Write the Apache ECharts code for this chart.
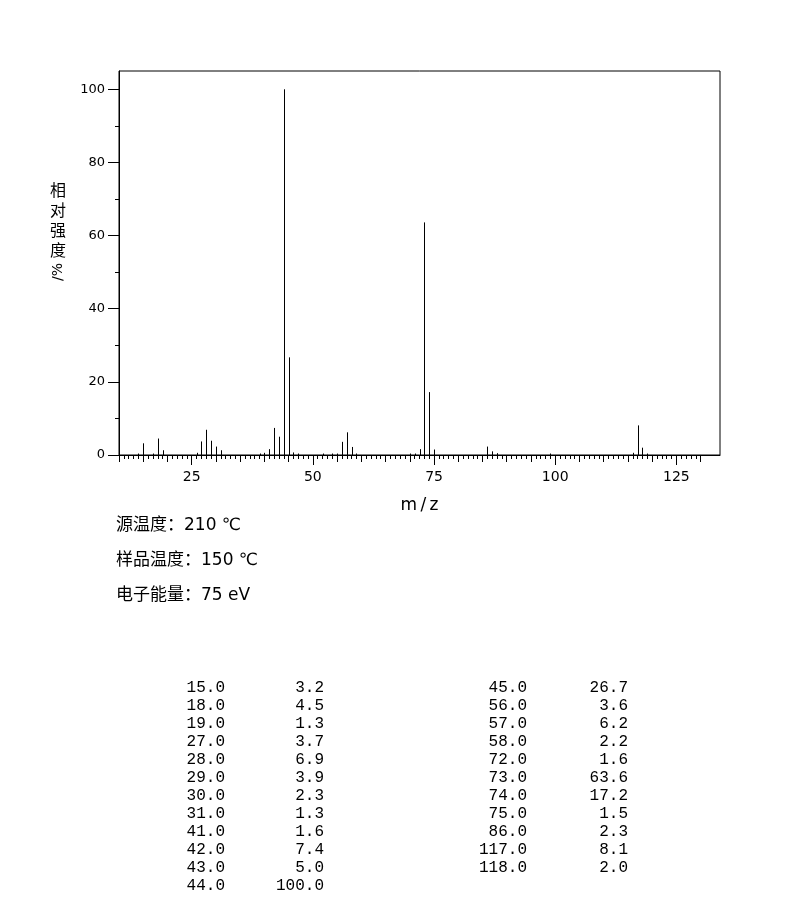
<!DOCTYPE html>
<html>
<head>
<meta charset="utf-8">
<script src="https://cdn.jsdelivr.net/npm/echarts@6/dist/echarts.min.js"></script>
<style>html,body{margin:0;padding:0;background:#fff}#c{width:794px;height:907px}</style>
</head>
<body>
<div id="c"></div>
<script>
// Listed peaks (table)
const tableMz  = [15, 18, 19, 27, 28, 29, 30, 31, 41, 42, 43, 44, 45, 56, 57, 58, 72, 73, 74, 75, 86, 117, 118];
const tableInt = [3.2, 4.5, 1.3, 3.7, 6.9, 3.9, 2.3, 1.3, 1.6, 7.4, 5.0, 100.0, 26.7, 3.6, 6.2, 2.2, 1.6, 63.6, 17.2, 1.5, 2.3, 8.1, 2.0];
// Small unlisted peaks
const minorMz  = [14, 17, 26, 39, 40, 46, 47, 52, 54, 55, 59, 70, 71, 87, 88, 99, 116, 119];
const minorInt = [0.4, 0.4, 0.6, 0.4, 0.6, 0.7, 0.4, 0.4, 0.4, 0.4, 0.4, 0.4, 0.4, 1.0, 0.5, 0.4, 0.6, 0.4];
// Axis ticks / labels
const xMajor = [25, 50, 75, 100, 125];
const yMajor = [0, 20, 40, 60, 80, 100];
const yMinor = [10, 30, 50, 70, 90];
const xFives = [];
for (let v = 10; v <= 130; v += 5) xFives.push(v);
const xOnes = [];
for (let v = 10; v <= 130; v += 1) xOnes.push(v);
const infoLines = ['源温度：210 ℃', '样品温度：150 ℃', '电子能量：75 eV'];

const peaks = tableMz.map((m, i) => [m, tableInt[i]])
  .concat(minorMz.map((m, i) => [m, minorInt[i]]))
  .sort((a, b) => a[0] - b[0]);

const chart = echarts.init(document.getElementById('c'), null, {renderer: 'canvas'});
const black = '#000';
const sansFont = '"DejaVu Sans", "Noto Sans CJK SC", sans-serif';

function xAx(ticks, len, extra) {
  return Object.assign({
    type: 'value', min: 10, max: 134, position: 'bottom', gridIndex: 0,
    axisLine: {show: false},
    axisTick: {show: true, length: len, customValues: ticks, lineStyle: {color: black, width: 1}},
    axisLabel: {show: false},
    splitLine: {show: false}
  }, extra || {});
}

const graphics = [];
infoLines.forEach((t, i) => {
  graphics.push({type: 'text', x: 116, y: 526 + i * 35,
    style: {text: t, font: '17px ' + sansFont, textVerticalAlign: 'middle', fill: black}});
});
graphics.push({type: 'text', x: 58, y: 180,
  style: {text: '相\n对\n强\n度', font: '16px "Noto Sans CJK SC", sans-serif', lineHeight: 20, textAlign: 'center', fill: black}});
graphics.push({type: 'text', x: 58, y: 272, rotation: Math.PI / 2,
  style: {text: '/%', font: '14px ' + sansFont, textAlign: 'center', textVerticalAlign: 'middle', fill: black}});

const tableFont = '16px "Liberation Mono", "Courier New", monospace';
const leftCount = 12;
tableMz.forEach((m, i) => {
  const col = i < leftCount ? 0 : 1;
  const row = col === 0 ? i : i - leftCount;
  const y = 688 + row * 18;
  const xm = col === 0 ? 225 : 527;
  const xi = col === 0 ? 324 : 628;
  graphics.push({type: 'text', x: xm, y: y,
    style: {text: m.toFixed(1), font: tableFont, textAlign: 'right', textVerticalAlign: 'middle', fill: black}});
  graphics.push({type: 'text', x: xi, y: y,
    style: {text: tableInt[i].toFixed(1), font: tableFont, textAlign: 'right', textVerticalAlign: 'middle', fill: black}});
});

chart.setOption({
  animation: false,
  backgroundColor: '#fff',
  grid: {left: 119, right: 74, top: 71, bottom: 452, show: true, borderColor: black, borderWidth: 1, containLabel: false},
  xAxis: [
    xAx(xMajor, 10, {
      axisLine: {show: true, lineStyle: {color: black, width: 1}},
      axisLabel: {show: true, customValues: xMajor, margin: 15, color: black, fontSize: 14, fontFamily: 'DejaVu Sans'},
      name: 'm\u2009/\u2009z', nameLocation: 'middle', nameGap: 42,
      nameTextStyle: {color: black, fontSize: 17, fontFamily: 'DejaVu Sans'}
    }),
    xAx(xFives, 7),
    xAx(xOnes, 4)
  ],
  yAxis: [
    {type: 'value', min: 0, max: 105, position: 'left', gridIndex: 0,
      axisLine: {show: true, lineStyle: {color: black, width: 1}},
      axisTick: {show: true, length: 11, customValues: yMajor, lineStyle: {color: black}},
      axisLabel: {show: true, customValues: yMajor, margin: 14, color: black, fontSize: 13, fontFamily: 'DejaVu Sans'},
      splitLine: {show: false}},
    {type: 'value', min: 0, max: 105, position: 'left', gridIndex: 0,
      axisLine: {show: false},
      axisTick: {show: true, length: 4, customValues: yMinor, lineStyle: {color: black}},
      axisLabel: {show: false},
      splitLine: {show: false}}
  ],
  series: [{
    type: 'custom', xAxisIndex: 0, yAxisIndex: 0,
    data: peaks,
    encode: {x: 0, y: 1},
    renderItem: function (params, api) {
      const x = api.value(0), y = api.value(1);
      const p0 = api.coord([x, 0]);
      const p1 = api.coord([x, y]);
      const px = Math.round(p0[0]) + 0.5;
      return {type: 'line', shape: {x1: px, y1: p0[1], x2: px, y2: p1[1]},
        style: {stroke: black, lineWidth: 1}};
    }
  }],
  graphic: graphics
});
</script>
</body>
</html>
